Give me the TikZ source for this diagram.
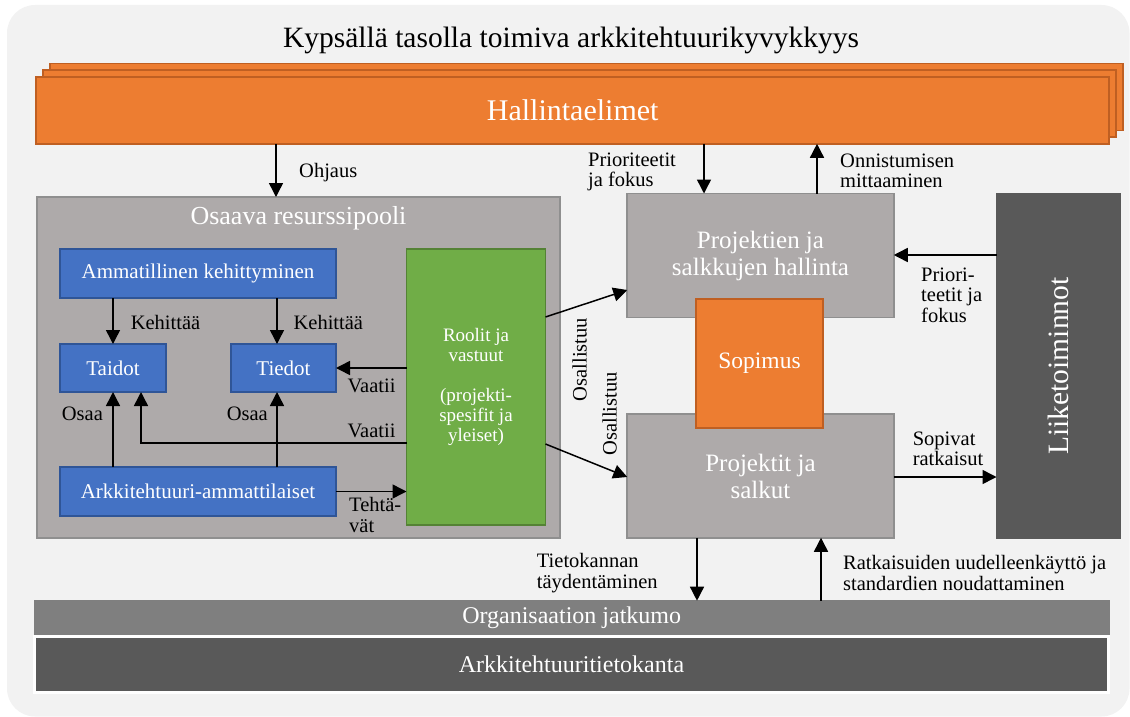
\documentclass[tikz,border=0pt]{standalone}
\usepackage{fontspec}
\setmainfont{Liberation Serif}
\usepackage{graphicx}
\usetikzlibrary{arrows.meta,shadows}

\definecolor{bgF}{HTML}{F2F2F2}
\definecolor{grayF}{HTML}{AEAAAA}
\definecolor{grayD}{HTML}{8F8F8F}
\definecolor{orangeF}{HTML}{ED7D31}
\definecolor{orangeD}{HTML}{BF5F22}
\definecolor{blueF}{HTML}{4472C4}
\definecolor{blueD}{HTML}{2F5597}
\definecolor{greenF}{HTML}{70AD47}
\definecolor{greenD}{HTML}{548235}
\definecolor{darkF}{HTML}{595959}
\definecolor{orgF}{HTML}{7F7F7F}

\tikzset{
  box/.style={draw, line width=1.6pt, inner sep=0pt, outer sep=0pt, text=white, align=center},
  bluebox/.style={box, fill=blueF, draw=blueD, font=\fontsize{21}{24}\selectfont},
  graybox/.style={box, fill=grayF, draw=grayD, font=\fontsize{25}{27}\selectfont},
  orangebox/.style={box, fill=orangeF, draw=orangeD},
  lab/.style={inner sep=0pt, anchor=west, align=left, font=\fontsize{20.5}{20.5}\selectfont},
  arr/.style={line width=1.5pt, -{Triangle[length=14pt,width=14pt]}},
}

\begin{document}
\begin{tikzpicture}[x=1pt, y=-1pt]
  \useasboundingbox (0,0) rectangle (1130,717);
  \fill[bgF, rounded corners=28pt] (7,5) rectangle (1129.5,716.5);

  \node (title) at (571,40) {\fontsize{29.5}{31}\selectfont Kypsällä tasolla toimiva arkkitehtuurikyvykkyys};
  \node (halli) [orangebox, double copy shadow={shadow xshift=7pt, shadow yshift=6.7pt},
    minimum width=1073pt, minimum height=67pt, font=\fontsize{30}{32}\selectfont] at (572.7,110.3) {Hallintaelimet};

  % osaava resurssipooli
  \node (pool) [graybox, minimum width=523pt, minimum height=341pt] at (298.5,367.5) {};
  \node (pooltitle) [text=white, font=\fontsize{26}{28}\selectfont] at (298.5,218) {Osaava resurssipooli};
  \node (amm) [bluebox, minimum width=276pt, minimum height=49pt] at (198,273.5) {Ammatillinen kehittyminen};
  \node (taidot) [bluebox, minimum width=106pt, minimum height=48pt] at (113,368) {Taidot};
  \node (tiedot) [bluebox, minimum width=105pt, minimum height=48pt] at (283.5,368) {Tiedot};
  \node (arkk) [bluebox, minimum width=276pt, minimum height=49pt] at (198,491.5) {Arkkitehtuuri-ammattilaiset};
  \node (roolit) [box, fill=greenF, draw=greenD, minimum width=139pt, minimum height=276pt,
    font=\fontsize{19}{20}\selectfont] at (476,387) {Roolit ja\\vastuut\\[20pt](projekti-\\spesifit ja\\yleiset)};

  \node (hall) [graybox, minimum width=266.5pt, minimum height=124pt] at (760.5,255.5) {Projektien ja\\salkkujen hallinta};
  \node (proj) [graybox, minimum width=266.5pt, minimum height=123.5pt] at (760.5,476) {Projektit ja\\salkut};
  \node (sop) [orangebox, minimum width=126.5pt, minimum height=129pt, font=\fontsize{23.5}{25}\selectfont] at (759.5,363.5) {Sopimus};
  \node (liike) [box, fill=darkF, draw=darkF, minimum width=124pt, minimum height=343.5pt,
    font=\fontsize{29.5}{30}\selectfont] at (1058.5,366) {\rotatebox{90}{Liiketoiminnot}};

  \node (org) [box, fill=orgF, draw=orgF, line width=0.5pt, minimum width=1075.6pt, minimum height=34.6pt,
    font=\fontsize{24}{26}\selectfont] at (571.7,618) {Organisaation jatkumo};
  \node (tk) [box, fill=darkF, draw=white, line width=3pt, minimum width=1074pt, minimum height=56pt,
    font=\fontsize{24}{26}\selectfont] at (571.5,664.5) {Arkkitehtuuritietokanta};

  \draw[arr] (halli.south -| 276,0) -- (pool.north -| 276,0);
  \draw[arr] (amm.south -| taidot.north) -- (taidot.north);
  \draw[arr] (amm.south -| 277,0) -- (tiedot.north -| 277,0);
  \draw[arr] (roolit.west |- tiedot.east) -- (tiedot.east);
  \draw[arr] (roolit.west |- 0,443) -| (141,0 |- taidot.south);
  \draw[arr] (arkk.north -| taidot.south) -- (taidot.south);
  \draw[arr] (arkk.north -| 277,0) -- (tiedot.south -| 277,0);
  \draw[arr] (arkk.east) -- (arkk.east -| roolit.west);
  \draw[arr] (roolit.east |- 0,317) -- (hall.west |- 0,290);
  \draw[arr] (roolit.east |- 0,444) -- (proj.west |- 0,477);
  \draw[arr] (halli.south -| 704,0) -- (hall.north -| 704,0);
  \draw[arr] (hall.north -| 817,0) -- (halli.south -| 817,0);
  \draw[arr] (liike.west |- 0,255) -- (hall.east |- 0,255);
  \draw[arr] (proj.east |- 0,477) -- (liike.west |- 0,477);
  \draw[arr] (proj.south -| 697,0) -- (org.north -| 697,0);
  \draw[arr] (org.north -| 821,0) -- (proj.south -| 821,0);

  \node (lohj) [lab] at (299,172.7) {Ohjaus};
  \node (lkeh1) [lab] at (130.6,322) {Kehittää};
  \node (lkeh2) [lab] at (293.4,322) {Kehittää};
  \node (lvaa1) [lab] at (347.5,386) {Vaatii};
  \node (lvaa2) [lab] at (347.5,430.7) {Vaatii};
  \node (losa1) [lab] at (61.7,414) {Osaa};
  \node (losa2) [lab] at (226.6,414) {Osaa};
  \node (lteh) [lab] at (349,515) {Tehtä-\\vät};
  \node (losal1) [lab, anchor=center, rotate=90] at (579.5,359.7) {Osallistuu};
  \node (losal2) [lab, anchor=center, rotate=90] at (609.6,414) {Osallistuu};
  \node (lprio1) [lab] at (588,171.7) {Prioriteetit\\ja fokus};
  \node (lonn) [lab] at (840,171) {Onnistumisen\\mittaaminen};
  \node (lprio2) [lab] at (921,295) {Priori-\\teetit ja\\fokus};
  \node (lsop) [lab] at (912.6,449) {Sopivat\\ratkaisut};
  \node (ltiet) [lab] at (536.7,573) {Tietokannan\\täydentäminen};
  \node (lratk) [lab] at (843,573) {Ratkaisuiden uudelleenkäyttö ja\\standardien noudattaminen};
\end{tikzpicture}
\end{document}
